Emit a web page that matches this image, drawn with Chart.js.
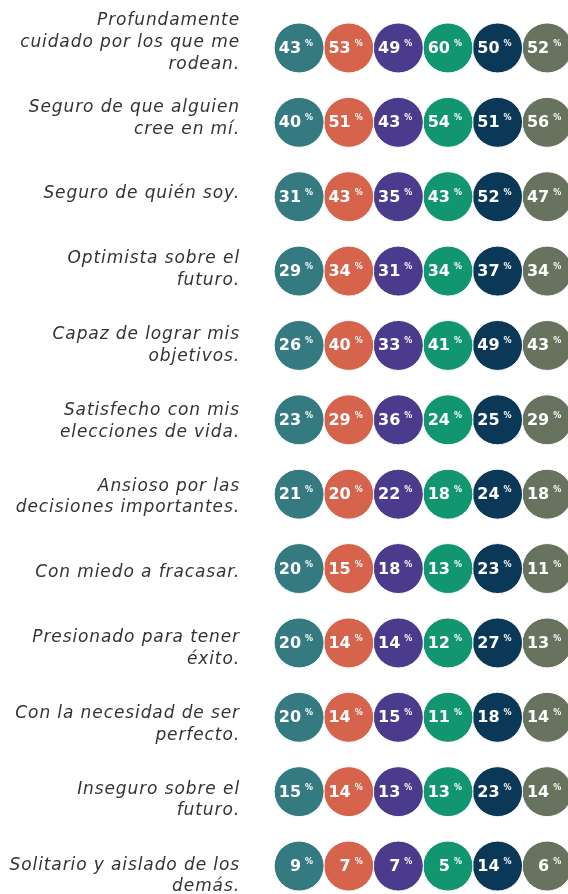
<!DOCTYPE html>
<html>
<head>
<meta charset="utf-8">
<script src="https://cdn.jsdelivr.net/npm/chart.js@4"></script>
<style>
  html, body { margin: 0; padding: 0; background: #fff; }
  canvas { display: block; }
</style>
</head>
<body>
<canvas id="grafico" width="568" height="894"></canvas>
<script>
// Afirmaciones (filas)
const afirmaciones = [
    ['Profundamente', 'cuidado por los que me', 'rodean.'],
    ['Seguro de que alguien', 'cree en mí.'],
    ['Seguro de quién soy.'],
    ['Optimista sobre el', 'futuro.'],
    ['Capaz de lograr mis', 'objetivos.'],
    ['Satisfecho con mis', 'elecciones de vida.'],
    ['Ansioso por las', 'decisiones importantes.'],
    ['Con miedo a fracasar.'],
    ['Presionado para tener', 'éxito.'],
    ['Con la necesidad de ser', 'perfecto.'],
    ['Inseguro sobre el', 'futuro.'],
    ['Solitario y aislado de los', 'demás.']
];

// Porcentajes por columna
const grupo1 = [43, 40, 31, 29, 26, 23, 21, 20, 20, 20, 15, 9];
const grupo2 = [53, 51, 43, 34, 40, 29, 20, 15, 14, 14, 14, 7];
const grupo3 = [49, 43, 35, 31, 33, 36, 22, 18, 14, 15, 13, 7];
const grupo4 = [60, 54, 43, 34, 41, 24, 18, 13, 12, 11, 13, 5];
const grupo5 = [50, 51, 52, 37, 49, 25, 24, 23, 27, 18, 23, 14];
const grupo6 = [52, 56, 47, 34, 43, 29, 18, 11, 13, 14, 14, 6];

const grupos = [grupo1, grupo2, grupo3, grupo4, grupo5, grupo6];
const colores = ['#357a80', '#d6634b', '#4b3b8c', '#12966f', '#0c3858', '#68735f'];

// Espaciado de letras para las etiquetas (la fuente original es más ancha)
const espaciado = {
    id: 'espaciado',
    beforeDraw(chart) { chart.ctx.letterSpacing = '0.9px'; },
    afterDraw(chart) { chart.ctx.letterSpacing = '0px'; }
};

// Texto dentro de cada círculo
const etiquetasCirculos = {
    id: 'etiquetasCirculos',
    afterDatasetsDraw(chart) {
        const ctx = chart.ctx;
        ctx.save();
        ctx.letterSpacing = '0px';
        ctx.fillStyle = '#ffffff';
        chart.data.datasets.forEach((ds, i) => {
            chart.getDatasetMeta(i).data.forEach((pt, j) => {
                ctx.font = 'bold 16px "DejaVu Sans"';
                ctx.textAlign = 'right';
                ctx.textBaseline = 'alphabetic';
                ctx.fillText(ds.valores[j], pt.x + 2, pt.y + 5);
                ctx.font = 'bold 8px "DejaVu Sans"';
                ctx.textAlign = 'left';
                ctx.fillText('%', pt.x + 6, pt.y - 2);
            });
        });
        ctx.restore();
    }
};

new Chart(document.getElementById('grafico'), {
    type: 'bubble',
    data: {
        datasets: grupos.map((valores, i) => ({
            valores: valores,
            data: valores.map((v, j) => ({ x: i, y: j })),
            backgroundColor: colores[i],
            borderColor: '#ffffff',
            borderWidth: 1,
            radius: 25,
            clip: false
        }))
    },
    options: {
        responsive: false,
        animation: false,
        events: [],
        layout: { padding: 0, autoPadding: false },
        plugins: {
            legend: { display: false },
            tooltip: { enabled: false }
        },
        scales: {
            x: {
                type: 'linear',
                display: false,
                min: -0.99,
                max: 5.42
            },
            y: {
                type: 'linear',
                display: false,
                reverse: true,
                min: -0.645,
                max: 11.376
            },
            // eje solo para los textos (en el original van algo más espaciados que los círculos)
            etiquetas: {
                type: 'linear',
                position: 'left',
                reverse: true,
                min: -0.561,
                max: 11.237,
                afterBuildTicks: (scale) => {
                    scale.ticks = afirmaciones.map((_, i) => ({ value: i }));
                },
                afterFit: (scale) => {
                    scale.width = 250;
                    scale.paddingTop = 0;
                    scale.paddingBottom = 0;
                },
                grid: { display: false, drawTicks: false },
                border: { display: false },
                ticks: {
                    padding: 10,
                    color: '#333333',
                    font: { family: '"DejaVu Sans"', size: 17, style: 'italic', lineHeight: 1.27 },
                    callback: (v) => afirmaciones[v]
                }
            }
        }
    },
    plugins: [espaciado, etiquetasCirculos]
});
</script>
</body>
</html>
